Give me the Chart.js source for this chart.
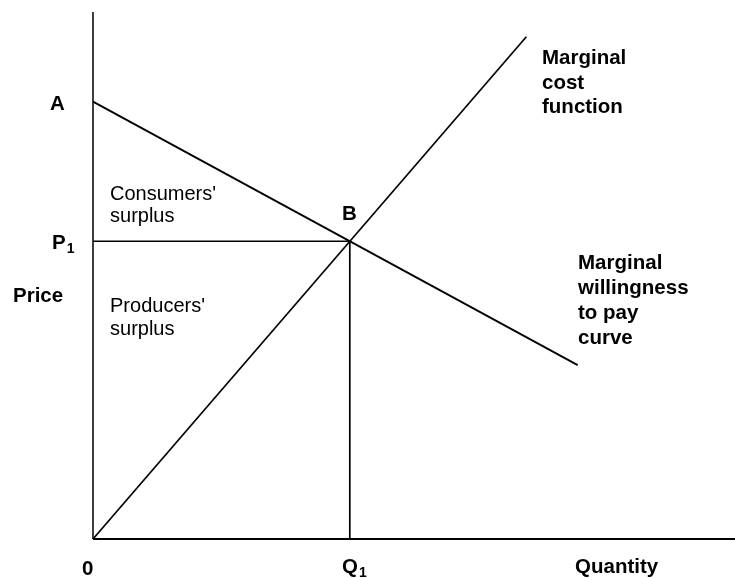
<!DOCTYPE html>
<html>
<head>
<meta charset="utf-8">
<script src="https://cdn.jsdelivr.net/npm/chart.js@4/dist/chart.umd.min.js"></script>
<style>
  html, body { margin: 0; padding: 0; background: #fff; }
  #wrap { width: 735px; height: 578px; position: relative; }
</style>
</head>
<body>
<div id="wrap"><canvas id="c"></canvas></div>
<script>
// ---- Data (price / quantity units of the diagram) ----
const mcQuantity  = [0, 67.5];     // marginal cost function
const mcPrice     = [0, 95.3];
const wtpQuantity = [0, 75.5];     // marginal willingness to pay curve
const wtpPrice    = [83, 33];
const equilibriumQ = 40;           // Q1
const equilibriumP = 56.5;         // P1
const axisMaxQ = 100;
const axisMaxP = 100;

// Text labels: [text, quantity, price, kind, subscript]
const axisLabels = [
  ['A',        -6.70,  81.40, 'bold', ''],
  ['P',        -6.39,  55.00, 'bold', '1'],
  ['Price',   -12.46,  44.97, 'bold', ''],
  ['0',        -1.71,  -6.83, 'bold', ''],
  ['Q',        38.79,  -6.45, 'bold', '1'],
  ['Quantity', 75.08,  -6.45, 'bold', ''],
  ['B',        38.79,  60.53, 'bold', '']
];
const blockLabels = [
  [['Marginal', 'cost', 'function'],               69.94, 90.13, 'bold', 24.5],
  [['Marginal', 'willingness', 'to pay', 'curve'], 75.55, 51.23, 'bold', 25],
  [["Consumers'", 'surplus'],                       2.65, 64.33, 'normal', 22.5],
  [["Producers'", 'surplus'],                       2.65, 43.07, 'normal', 22.5]
];

const toPts = (xs, ys) => xs.map((x, i) => ({ x: x, y: ys[i] }));

const lineDs = (data, width) => ({
  data: data, showLine: true, borderColor: '#000', borderWidth: width,
  pointRadius: 0, fill: false, tension: 0, clip: false
});

const FAMILY = ' "Liberation Sans", Arial, sans-serif';

const labelPlugin = {
  id: 'labels',
  afterDatasetsDraw(chart) {
    const ctx = chart.ctx, xs = chart.scales.x, ys = chart.scales.y;
    ctx.save();
    ctx.fillStyle = '#000';
    ctx.textAlign = 'left';
    ctx.textBaseline = 'alphabetic';
    axisLabels.forEach(([t, q, p, w, sub]) => {
      const px = xs.getPixelForValue(q), py = ys.getPixelForValue(p);
      ctx.font = w + ' 20.5px' + FAMILY;
      ctx.fillText(t, px, py);
      if (sub) {
        const wdt = ctx.measureText(t).width;
        ctx.font = w + ' 14px' + FAMILY;
        ctx.fillText(sub, px + wdt + 1, py + 4);
      }
    });
    blockLabels.forEach(([lines, q, p, w, gap]) => {
      const px = xs.getPixelForValue(q), py = ys.getPixelForValue(p);
      ctx.font = w + (w === 'bold' ? ' 20.5px' : ' 20px') + FAMILY;
      lines.forEach((t, i) => ctx.fillText(t, px, py + i * gap));
    });
    ctx.restore();
  }
};

new Chart(document.getElementById('c'), {
  type: 'scatter',
  data: {
    datasets: [
      lineDs(toPts([0, 0], [0, axisMaxP]), 1.5),                       // price axis
      lineDs(toPts([0, axisMaxQ], [0, 0]), 2),                         // quantity axis
      lineDs(toPts(mcQuantity, mcPrice), 1.7),
      lineDs(toPts(wtpQuantity, wtpPrice), 1.8),
      lineDs(toPts([0, equilibriumQ], [equilibriumP, equilibriumP]), 1.7),
      lineDs(toPts([equilibriumQ, equilibriumQ], [equilibriumP, 0]), 1.7)
    ]
  },
  options: {
    responsive: true,
    maintainAspectRatio: false,
    animation: false,
    layout: { padding: { left: 93, top: 12, right: 0, bottom: 39 } },
    plugins: { legend: { display: false }, tooltip: { enabled: false } },
    scales: {
      x: { type: 'linear', min: 0, max: axisMaxQ, display: false },
      y: { type: 'linear', min: 0, max: axisMaxP, display: false }
    }
  },
  plugins: [labelPlugin]
});
</script>
</body>
</html>
